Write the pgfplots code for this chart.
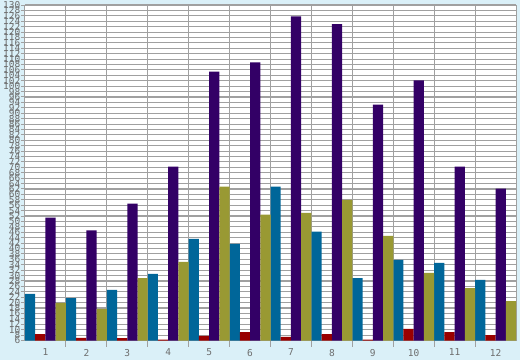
\documentclass[border=0pt]{standalone}
\usepackage{pgfplots}
\pgfplotsset{compat=1.18}
\usepackage{fontspec}
\setmonofont{DejaVu Sans Mono}
\definecolor{bgblue}{HTML}{DAF0F8}
\definecolor{gridgray}{HTML}{A0A0A0}
\definecolor{labgray}{HTML}{6E6E6E}
\definecolor{cteal}{HTML}{006699}
\definecolor{cred}{HTML}{990000}
\definecolor{cpurple}{HTML}{330066}
\definecolor{colive}{HTML}{999933}
\begin{document}
\begin{tikzpicture}[x=1pt,y=1pt]
\path[use as bounding box, fill=bgblue] (0,0) rectangle (520,360);
\begin{axis}[
  at={(25pt,19.5pt)}, anchor=south west,
  width=491pt, height=335.5pt, scale only axis,
  xmin=0.5, xmax=12.5, ymin=6, ymax=130,
  axis background/.style={fill=white},
  axis line style={gridgray, line width=1pt},
  xtick={1,...,12},
  minor xtick={1.5,2.5,...,11.5},
  ytick={6,8,...,130},
  ymajorgrids, xminorgrids,
  major grid style={gridgray, line width=1.1pt},
  minor grid style={gridgray, line width=1pt},
  tick style={gridgray, line width=1pt},
  every major x tick/.append style={draw=none},
  tick align=outside, tick pos=left,
  major tick length=4pt, minor tick length=6pt,
  /pgf/number format/assume math mode=true,
  ticklabel style={font=\fontsize{9.5}{9.5}\selectfont\ttfamily, text=labgray},
  yticklabel style={inner sep=0.5pt},
  xticklabel style={yshift=-1pt},
]
\addplot[ybar, bar width=0.25, bar shift=-0.375, fill=cteal, draw=none] coordinates {
(1,23.2) (2,21.7) (3,24.7) (4,30.6) (5,43.6) (6,41.7) (7,62.9) (8,46.2) (9,29.1) (10,35.8) (11,34.7) (12,28.4)};
\addplot[ybar, bar width=0.25, bar shift=-0.125, fill=cred, draw=none] coordinates {
(1,8.4) (2,7.0) (3,6.9) (4,6.3) (5,7.7) (6,9.1) (7,7.3) (8,8.4) (9,6.3) (10,10.3) (11,9.1) (12,8.0)};
\addplot[ybar, bar width=0.25, bar shift=0.125, fill=cpurple, draw=none] coordinates {
(1,51.4) (2,46.7) (3,56.6) (4,70.3) (5,105.4) (6,108.8) (7,125.8) (8,122.9) (9,93.2) (10,102.1) (11,70.3) (12,62.1)};
\addplot[ybar, bar width=0.25, bar shift=0.375, fill=colive, draw=none] coordinates {
(1,19.9) (2,17.7) (3,29.1) (4,35.1) (5,62.9) (6,52.5) (7,53.2) (8,58.0) (9,44.7) (10,31.0) (11,25.4) (12,20.6)};
\end{axis}
\end{tikzpicture}
\end{document}
